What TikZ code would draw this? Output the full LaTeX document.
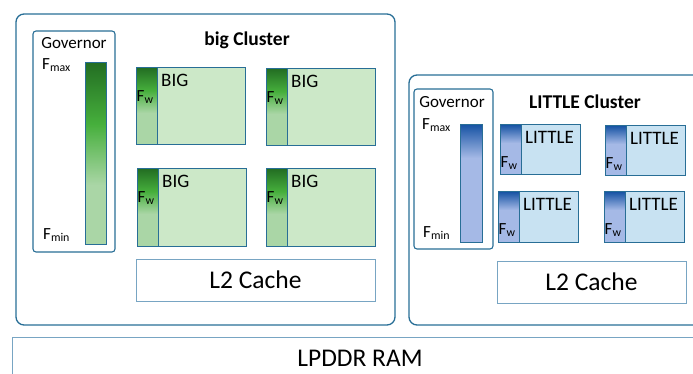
\documentclass[tikz,border=0pt]{standalone}
\usepackage{fontspec}
\setmainfont{Carlito}
\usetikzlibrary{calc}
\begin{document}
\begin{tikzpicture}[x=1pt,y=-1pt,
  frame/.style={draw=borderblue, line width=1.3pt, rounded corners=8pt},
  govbox/.style={draw=borderblue, line width=1.1pt, rounded corners=3pt, fill=white},
  cache/.style={draw=cacheblue, line width=0.9pt, fill=white},
  bigcore/.style={draw=borderblue, line width=1pt, fill=biglight},
  littlecore/.style={draw=borderblue, line width=1pt, fill=littlelight},
  lbl/.style={inner sep=0pt, font=\fontsize{17}{20}\selectfont},
  corelbl/.style={inner sep=0pt, anchor=north west, font=\fontsize{19}{22}\selectfont},
  cachelbl/.style={inner sep=0pt, font=\fontsize{25.5}{30}\selectfont},
  title/.style={inner sep=0pt, font=\fontsize{19.5}{23}\selectfont\bfseries}]
\definecolor{borderblue}{RGB}{40,110,150}
\definecolor{cacheblue}{RGB}{120,165,195}
\definecolor{biglight}{RGB}{204,232,200}
\definecolor{bigstrip}{RGB}{170,214,166}
\definecolor{bigdark}{RGB}{35,110,35}
\definecolor{bigmid}{RGB}{70,175,60}
\definecolor{littlelight}{RGB}{200,226,242}
\definecolor{littlestrip}{RGB}{165,185,230}
\definecolor{littledark}{RGB}{25,85,165}
\useasboundingbox (0,0) rectangle (693,374);
\begin{scope}
\clip (0,0) rectangle (693,374);
% clusters
\draw[frame] (16,14) rectangle (395,325);
\node[title] (bigt) at (247,40) {big Cluster};
\draw[frame] (409,75) rectangle (720,325);
\node[title] (lt) at (585,102) {LITTLE Cluster};
% RAM
\draw[cache] (12,337) rectangle (720,390);
\node[cachelbl] (ram) at (360,358) {LPDDR RAM};
\end{scope}
% big governor
\draw[govbox] (33,31) rectangle (115,252);
\node[lbl] (g1) at (74,43) {Governor};
\fill[bigstrip] (85,63) rectangle (106,244);
\shade[top color=bigdark, bottom color=bigstrip, middle color=bigmid] (85,63) rectangle (106,185);
\draw[draw=borderblue, line width=1pt] (85,63) rectangle (106,244);
\node[lbl, anchor=west] (fmax1) at (42,65) {F\textsubscript{max}};
\node[lbl, anchor=west] (fmin1) at (43,235) {F\textsubscript{min}};
% BIG cores
\foreach \x/\y/\n in {136/68/a, 266/69/b, 137/169/c, 266/169/d}{
  \draw[bigcore] (\x,\y) rectangle ++(109,77);
  \fill[bigstrip] (\x,\y) rectangle ++(21,77);
  \shade[top color=bigdark, bottom color=bigstrip, middle color=bigmid] (\x,\y) rectangle ++(21,45);
  \draw[draw=borderblue, line width=1pt] (\x,\y) rectangle ++(21,77);
  \draw[draw=borderblue, line width=1pt] (\x,\y) rectangle ++(109,77);
  \node[corelbl] (big\n) at ($(\x,\y)+(25,5.5)$) {BIG};
  \node[lbl, anchor=west, inner sep=0pt] (fw\n) at ($(\x,\y)+(0.5,29)$) {F\textsubscript{w}};
}
\node[cache, minimum width=239pt, minimum height=42pt, cachelbl] (l2a) at (255.5,280) {L2 Cache};
% little governor
\draw[govbox] (414,89) rectangle (493,249);
\node[lbl] (g2) at (452,102) {Governor};
\fill[littlestrip] (460,125) rectangle (482,242);
\shade[top color=littledark, bottom color=littlestrip] (460,125) rectangle (482,158);
\draw[draw=borderblue, line width=1pt] (460,125) rectangle (482,242);
\node[lbl, anchor=west] (fmax2) at (422,125) {F\textsubscript{max}};
\node[lbl, anchor=west] (fmin2) at (423,233) {F\textsubscript{min}};
% LITTLE cores
\foreach \x/\y/\n in {500/125/a, 605/126/b, 498/192/c, 604/192/d}{
  \draw[littlecore] (\x,\y) rectangle ++(80,50);
  \fill[littlestrip] (\x,\y) rectangle ++(21,50);
  \shade[top color=littledark, bottom color=littlestrip] (\x,\y) rectangle ++(21,18);
  \draw[draw=borderblue, line width=1pt] (\x,\y) rectangle ++(21,50);
  \draw[draw=borderblue, line width=1pt] (\x,\y) rectangle ++(80,50);
  \node[corelbl] (lit\n) at ($(\x,\y)+(25,6)$) {LITTLE};
  \node[lbl, anchor=west, inner sep=0pt] (lw\n) at ($(\x,\y)+(0.5,38)$) {F\textsubscript{w}};
}
\node[cache, minimum width=189pt, minimum height=42pt, cachelbl] (l2b) at (591.5,282) {L2 Cache};
\end{tikzpicture}
\end{document}
